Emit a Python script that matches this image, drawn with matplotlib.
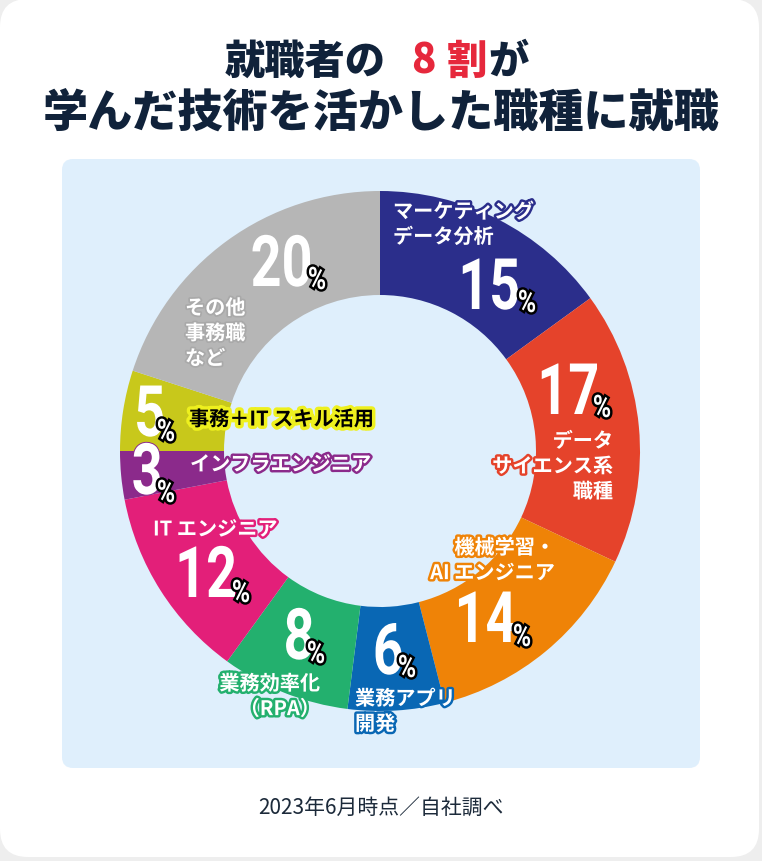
import matplotlib
matplotlib.use("Agg")
import matplotlib.pyplot as plt
import matplotlib.patheffects as pe
from matplotlib.patches import FancyBboxPatch, PathPatch
from matplotlib.textpath import TextPath
from matplotlib.font_manager import FontProperties
from matplotlib.transforms import Affine2D

plt.rcParams['font.family'] = ['Noto Sans CJK JP', 'DejaVu Sans']

# データ
shares = [15, 17, 14, 6, 8, 12, 3, 5, 20]
categories = ["マーケティング\nデータ分析", "データ\nサイエンス系\n職種", "機械学習・\nAI エンジニア",
              "業務アプリ\n開発", "業務効率化\n（RPA）", "IT エンジニア", "インフラエンジニア",
              "事務＋IT スキル活用", "その他\n事務職\nなど"]
colors = ["#2b2e8b", "#e5432b", "#ef8307", "#0967b4", "#23b06e", "#e31f79", "#8b2a8b", "#c8c81b", "#b6b6b6"]
title_parts = ["就職者の", "8", "割", "が"]
title_line2 = "学んだ技術を活かした職種に就職"
note = "2023年6月時点／自社調べ"

# 文字の位置 (px)
num_pos = [(518, 310), (597, 415), (515, 643), (402, 675), (312, 660), (235, 598), (160, 495), (163, 437), (310, 287)]
pct_pos = [(519, 313), (594, 418), (514, 647), (399, 678), (308, 664), (233, 603), (158, 503), (158, 442), (309, 290)]
cat_pos = [(393, 225, 'left'), (613, 467, 'right'), (555, 561, 'right'), (355, 712, 'left'),
           (320, 697, 'right'), (153, 530, 'left'), (190, 465, 'left'), (189, 420, 'left'), (185, 334, 'left')]

W, H = 762, 862
fig = plt.figure(figsize=(W / 100, H / 100), dpi=100)
fig.patch.set_facecolor("#eeeeee")

bg = fig.add_axes([0, 0, 1, 1])
bg.set_xlim(0, W)
bg.set_ylim(H, 0)
bg.axis("off")
bg.add_patch(FancyBboxPatch((0, 0), 759, 858, boxstyle="round,pad=0,rounding_size=28",
                            fc="white", ec="none"))
bg.add_patch(FancyBboxPatch((62, 160), 638, 609, boxstyle="round,pad=0,rounding_size=11",
                            fc="#dfeffc", ec="none"))

# ドーナツ
cx, cy, r = 380, 452, 260
ax = fig.add_axes([(cx - r) / W, (H - cy - r) / H, 2 * r / W, 2 * r / H])
ax.pie(shares, colors=colors, startangle=90, counterclock=False, radius=1,
       wedgeprops=dict(width=0.4, edgecolor="none"))
ax.set_xlim(-1, 1)
ax.set_ylim(-1, 1)
ax.axis("off")

tx = fig.add_axes([0, 0, 1, 1])
tx.set_xlim(0, W)
tx.set_ylim(H, 0)
tx.axis("off")
tx.patch.set_alpha(0)

num_prop = FontProperties(family='Roboto', weight='bold')


def narrow_text(x, y, s, size, sx, ha, fc, sc, lw):
    # 横に詰めた文字 (ベースライン基準)
    tp = TextPath((0, 0), s, size=size, prop=num_prop)
    ext = tp.get_extents()
    x0 = x - ext.x1 * sx if ha == "right" else x - ext.x0 * sx
    tr = Affine2D().scale(sx, -1).translate(x0, y) + tx.transData
    p = PathPatch(tp, transform=tr, fc=fc, ec="none", zorder=5)
    p.set_path_effects([pe.withStroke(linewidth=lw, foreground=sc)])
    tx.add_patch(p)


for i, v in enumerate(shares):
    x, y = num_pos[i]
    narrow_text(x, y, str(v), 71, 0.76, "right", "white", colors[i], 1.4)
    x, y = pct_pos[i]
    narrow_text(x, y, "%", 31, 0.8, "left", "white", "black", 3.5)

for i, lab in enumerate(categories):
    x, y, ha = cat_pos[i]
    if i == 7:
        fc, sc, lw = "black", "#eef01e", 5
    elif i == 8:
        fc, sc, lw = "white", "#a9a9a9", 2.5
    else:
        fc, sc, lw = "white", colors[i], 3.5
    tx.text(x, y, lab, ha=ha, va="center", multialignment=ha, fontsize=14.5,
            fontweight="bold", color=fc, linespacing=1.25, zorder=6,
            path_effects=[pe.withStroke(linewidth=lw, foreground=sc)])

# タイトル
navy = "#10223a"
red = "#e6283c"
tx.text(305, 62, title_parts[0], ha="center", va="center", fontsize=29, fontweight="heavy", color=navy)
tx.text(423, 62, title_parts[1], ha="center", va="center", fontsize=29, fontweight="heavy", color=red)
tx.text(467, 62, title_parts[2], ha="center", va="center", fontsize=29, fontweight="heavy", color=red)
tx.text(508, 62, title_parts[3], ha="center", va="center", fontsize=29, fontweight="heavy", color=navy)
tx.text(381, 113, title_line2, ha="center", va="center", fontsize=32.5, fontweight="heavy", color=navy)

tx.text(381, 808, note, ha="center", va="center", fontsize=15, color="#1c2a3a")

fig.savefig("out.png", dpi=100, facecolor=fig.get_facecolor())
